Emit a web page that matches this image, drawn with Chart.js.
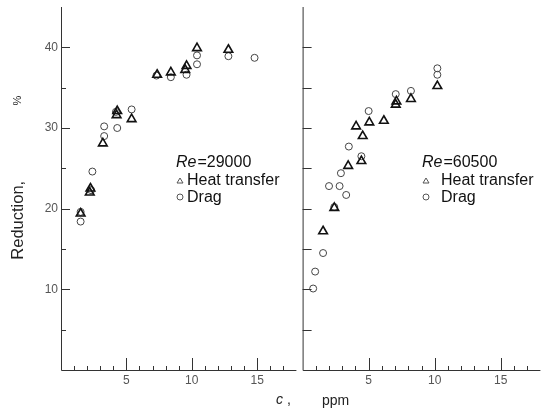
<!DOCTYPE html>
<html>
<head>
<meta charset="utf-8">
<script src="https://cdn.jsdelivr.net/npm/chart.js@4"></script>
<style>
  body { margin: 0; background: #fff; }
  #wrap { position: relative; width: 547px; height: 410px; overflow: hidden; font-family: "Liberation Sans", Arial, sans-serif; color: #222; }
  canvas { position: absolute; top: 0; }
  .txt { position: absolute; white-space: nowrap; line-height: 1; }
</style>
</head>
<body>
<div id="wrap">
  <canvas id="left" width="303" height="410" style="left:0"></canvas>
  <canvas id="right" width="251" height="410" style="left:296px"></canvas>
  <div class="txt" style="left:-22px; top:212px; font-size:16.5px; transform: rotate(-90deg); transform-origin: center;">Reduction,</div>
  <div class="txt" style="left:13px; top:95px; font-size:11px; transform: rotate(-90deg);">%</div>
  <div class="txt" style="left:276px; top:392px; font-size:14px;"><i>c</i>&nbsp;,</div>
  <div class="txt" style="left:322px; top:393px; font-size:14px;">ppm</div>
</div>
<script>
// Re = 29000 (left panel)
const heatX29 = [1.5, 2.2, 2.25, 3.2, 4.25, 4.3, 5.4, 7.35, 8.4, 9.5, 9.6, 10.4, 12.8];
const heatY29 = [19.4, 22.0, 22.5, 28.1, 31.6, 32.1, 31.1, 36.6, 36.9, 37.2, 37.7, 39.9, 39.7];
const dragX29 = [1.5, 1.5, 2.3, 2.4, 3.3, 3.3, 4.2, 4.3, 5.4, 7.3, 8.4, 9.6, 10.4, 10.4, 12.8, 14.8];
const dragY29 = [19.6, 18.4, 22.3, 24.6, 29.0, 30.2, 32.0, 30.0, 32.3, 36.5, 36.3, 36.6, 39.0, 37.9, 38.9, 38.7];

// Re = 60500 (right panel)
const heatX60 = [1.55, 2.4, 3.45, 4.05, 4.45, 4.55, 5.05, 6.15, 7.05, 7.1, 8.2, 10.2];
const heatY60 = [17.2, 20.1, 25.3, 30.2, 25.9, 29.0, 30.7, 30.9, 32.9, 33.3, 33.6, 35.2];
const dragX60 = [0.8, 0.95, 1.55, 2.0, 2.4, 2.8, 2.9, 3.3, 3.5, 4.45, 5.0, 7.05, 8.2, 10.2, 10.2];
const dragY60 = [10.1, 12.2, 14.5, 22.8, 20.2, 22.8, 24.4, 21.7, 27.7, 26.5, 32.1, 34.2, 34.6, 36.6, 37.4];

const xMajorTicks = [5, 10, 15];
const xMinorTicks = [1, 2, 3, 4, 6, 7, 8, 9, 11, 12, 13, 14, 16, 17];
const yMajorTicks = [10, 20, 30, 40];
const yMinorTicks = [5, 15, 25, 35];
const yTickLabels = ['10', '20', '30', '40'];

const pts = (xs, ys) => xs.map((x, i) => ({ x, y: ys[i] }));

// axes are drawn by hand so ticks can point inward like the scanned figure
const framePlugin = {
  id: 'frame',
  afterDraw(chart, args, opts) {
    const { ctx, chartArea: a, scales: { x, y } } = chart;
    ctx.save();
    ctx.strokeStyle = '#333';
    ctx.lineWidth = 1;
    ctx.beginPath();
    ctx.moveTo(a.left + 0.5, y.getPixelForValue(45));
    ctx.lineTo(a.left + 0.5, a.bottom + 0.5);
    ctx.lineTo(a.right, a.bottom + 0.5);
    ctx.stroke();

    ctx.beginPath();
    xMinorTicks.forEach(v => {
      const px = Math.round(x.getPixelForValue(v)) + 0.5;
      ctx.moveTo(px, a.bottom); ctx.lineTo(px, a.bottom - 4);
    });
    xMajorTicks.forEach(v => {
      const px = Math.round(x.getPixelForValue(v)) + 0.5;
      ctx.moveTo(px, a.bottom); ctx.lineTo(px, a.bottom - 12);
    });
    yMajorTicks.forEach(v => {
      const py = Math.round(y.getPixelForValue(v)) + 0.5;
      ctx.moveTo(a.left, py); ctx.lineTo(a.left + 9, py);
    });
    yMinorTicks.forEach(v => {
      const py = Math.round(y.getPixelForValue(v)) + 0.5;
      ctx.moveTo(a.left, py); ctx.lineTo(a.left + (opts.yLabels ? 5 : 9), py);
    });
    ctx.stroke();

    ctx.fillStyle = '#555';
    ctx.font = '12px "Liberation Sans", Arial, sans-serif';
    ctx.textAlign = 'center';
    ctx.textBaseline = 'top';
    xMajorTicks.forEach(v => ctx.fillText(String(v), x.getPixelForValue(v), a.bottom + 5));
    if (opts.yLabels) {
      ctx.textAlign = 'right';
      ctx.textBaseline = 'middle';
      yMajorTicks.forEach((v, i) => ctx.fillText(yTickLabels[i], a.left - 3, y.getPixelForValue(v)));
    }

    // legend block
    const L = opts.legend;
    ctx.fillStyle = '#111';
    ctx.textAlign = 'left';
    ctx.textBaseline = 'alphabetic';
    ctx.font = 'italic 16px "Liberation Sans", Arial, sans-serif';
    ctx.fillText('Re', L.x, L.y);
    const w = ctx.measureText('Re').width;
    ctx.font = '16px "Liberation Sans", Arial, sans-serif';
    ctx.fillText(L.re, L.x + w + 1, L.y);
    ctx.fillText('Heat transfer', L.x + L.gap, L.y + 18);
    ctx.fillText('Drag', L.x + L.gap, L.y + 35);
    ctx.strokeStyle = '#555';
    ctx.beginPath();
    ctx.moveTo(L.x + 1, L.y + 16); ctx.lineTo(L.x + 4, L.y + 11); ctx.lineTo(L.x + 7, L.y + 16); ctx.closePath();
    ctx.stroke();
    ctx.beginPath();
    ctx.arc(L.x + 4, L.y + 30, 3, 0, Math.PI * 2);
    ctx.stroke();
    ctx.restore();
  }
};

function makeChart(id, heat, drag, pad, opts) {
  return new Chart(document.getElementById(id), {
    type: 'scatter',
    data: {
      datasets: [
        {
          label: 'Heat transfer',
          data: heat,
          pointStyle: 'triangle',
          pointRadius: 5,
          borderWidth: 1.6,
          borderColor: '#111',
          backgroundColor: 'rgba(0,0,0,0)',
          clip: false
        },
        {
          label: 'Drag',
          data: drag,
          pointStyle: 'circle',
          pointRadius: 3.5,
          borderWidth: 1,
          borderColor: '#444',
          backgroundColor: 'rgba(0,0,0,0)',
          clip: false
        }
      ]
    },
    options: {
      responsive: false,
      animation: false,
      layout: { padding: pad },
      scales: {
        x: { type: 'linear', min: 0, max: 18, display: false },
        y: { type: 'linear', min: 0, max: 45, display: false }
      },
      plugins: {
        legend: { display: false },
        tooltip: { enabled: false },
        frame: opts
      }
    },
    plugins: [framePlugin]
  });
}

makeChart('left', pts(heatX29, heatY29), pts(dragX29, dragY29),
  { left: 61, right: 2, top: 7, bottom: 40 },
  { yLabels: true, legend: { x: 176, y: 167, gap: 11, re: '=29000' } });

makeChart('right', pts(heatX60, heatY60), pts(dragX60, dragY60),
  { left: 5, right: 6, top: 7, bottom: 40 },
  { yLabels: false, legend: { x: 126, y: 167, gap: 19, re: '=60500' } });
</script>
</body>
</html>
